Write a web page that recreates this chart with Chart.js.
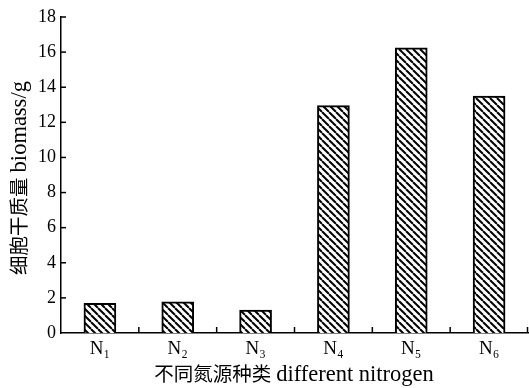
<!DOCTYPE html>
<html>
<head>
<meta charset="utf-8">
<script src="https://cdn.jsdelivr.net/npm/chart.js@4"></script>
<style>
  html, body { margin: 0; padding: 0; background: #fff; }
  #wrap { width: 529px; height: 388px; }
</style>
</head>
<body>
<div id="wrap"><canvas id="biomassChart" width="529" height="388"></canvas></div>
<script>
// data
const categories = ['N₁', 'N₂', 'N₃', 'N₄', 'N₅', 'N₆'];
const biomass = [1.69, 1.78, 1.3, 12.95, 16.25, 13.5];
const yMin = 0;
const yMax = 18;
const yStep = 2;
// axis titles: Chinese part + English part
const yTitle = ['细胞干质量', 'biomass/g'];
const xTitle = ['不同氮源种类', 'different nitrogen'];

document.addEventListener('DOMContentLoaded', function() {
    Chart.defaults.font.family = "'Liberation Serif', 'Noto Sans CJK SC', serif";
    Chart.defaults.color = '#000';

    const cjkFont = "19.5px 'Noto Sans CJK SC', sans-serif";
    const latinFont = "22.5px 'Liberation Serif', serif";

    // hatch fill: black "\" stripes on white
    function makeHatch() {
        const s = 7;
        const c = document.createElement('canvas');
        c.width = s; c.height = s;
        const g = c.getContext('2d');
        g.fillStyle = '#fff';
        g.fillRect(0, 0, s, s);
        g.strokeStyle = '#000';
        g.lineWidth = 2;
        [-s, 0, s].forEach(x0 => {
            g.beginPath();
            g.moveTo(x0, 0);
            g.lineTo(x0 + s, s);
            g.stroke();
        });
        return g.createPattern(c, 'repeat');
    }

    // mixed-script title, centred on (cx, cy)
    function drawTitle(ctx, parts, cx, cy, vertical) {
        ctx.save();
        ctx.fillStyle = '#000';
        ctx.textBaseline = 'alphabetic';
        ctx.textAlign = 'left';
        ctx.font = cjkFont;
        const w1 = ctx.measureText(parts[0]).width;
        ctx.font = latinFont;
        const w2 = ctx.measureText(parts[1]).width;
        const gap = 5;
        const total = w1 + gap + w2;
        ctx.translate(cx, cy);
        if (vertical) ctx.rotate(-Math.PI / 2);
        ctx.font = cjkFont;
        ctx.fillText(parts[0], -total / 2, 7);
        ctx.font = latinFont;
        ctx.fillText(parts[1], -total / 2 + w1 + gap, 7);
        ctx.restore();
    }

    // ticks pointing into the plot + axis titles
    const axisDecor = {
        id: 'axisDecor',
        afterDraw(chart) {
            const ctx = chart.ctx;
            const area = chart.chartArea;
            const xs = chart.scales.x;
            const ys = chart.scales.y;
            ctx.save();
            ctx.strokeStyle = '#000';
            ctx.lineWidth = 1.5;
            ys.ticks.forEach((t, i) => {
                if (i === 0) return;
                const y = ys.getPixelForTick(i);
                ctx.beginPath();
                ctx.moveTo(area.left, y);
                ctx.lineTo(area.left + 5, y);
                ctx.stroke();
            });
            for (let i = 0; i < categories.length; i++) {
                const x = i < categories.length - 1
                    ? (xs.getPixelForValue(i) + xs.getPixelForValue(i + 1)) / 2
                    : area.right - 0.5;
                ctx.beginPath();
                ctx.moveTo(x, area.bottom);
                ctx.lineTo(x, area.bottom - 6);
                ctx.stroke();
            }
            ctx.restore();

            drawTitle(ctx, xTitle, 294, 374, false);
            drawTitle(ctx, yTitle, 19, 178, true);
        }
    };

    const ctx = document.getElementById('biomassChart').getContext('2d');
    new Chart(ctx, {
        type: 'bar',
        data: {
            labels: categories,
            datasets: [{
                data: biomass,
                backgroundColor: makeHatch(),
                borderColor: '#000',
                borderWidth: 2,
                borderSkipped: 'bottom',
                barThickness: 32
            }]
        },
        options: {
            responsive: false,
            animation: false,
            layout: { padding: { top: 17, right: 1, left: 0, bottom: 0 } },
            plugins: { legend: { display: false }, tooltip: { enabled: false } },
            scales: {
                x: {
                    grid: { display: false, drawTicks: false },
                    border: { color: '#000', width: 1.5 },
                    ticks: { font: { size: 19 }, padding: 5, maxRotation: 0 },
                    afterFit: (s) => { s.height = 55; }
                },
                y: {
                    min: yMin,
                    max: yMax,
                    grid: { display: false, drawTicks: false },
                    border: { color: '#000', width: 1.5 },
                    ticks: { stepSize: yStep, font: { size: 18 }, padding: 5 },
                    afterFit: (s) => { s.width = 61; }
                }
            }
        },
        plugins: [axisDecor]
    });
});
</script>
</body>
</html>
